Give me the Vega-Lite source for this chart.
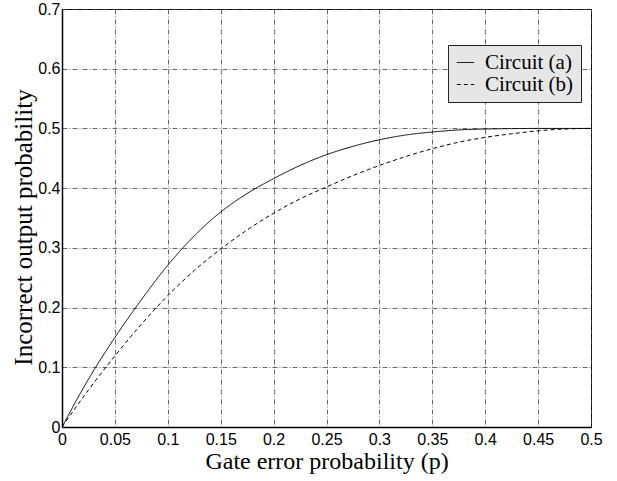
{
  "$schema": "https://vega.github.io/schema/vega-lite/v6.json",
  "width": 529,
  "height": 418,
  "autosize": {"type": "none"},
  "padding": {"left": 62, "top": 9, "right": 26, "bottom": 54},
  "background": "white",
  "config": {
    "view": {"stroke": "black", "strokeWidth": 1},
    "axis": {
      "grid": true,
      "gridColor": "#444",
      "gridDash": [5, 2, 1, 2],
      "gridWidth": 0.8,
      "gridOpacity": 1,
      "ticks": false,
      "domainColor": "black",
      "domainWidth": 1.5,
      "labelFont": "Liberation Sans",
      "labelFontSize": 16,
      "labelColor": "black",
      "titleFont": "Liberation Serif",
      "titleFontSize": 24,
      "titleFontWeight": "normal",
      "titleColor": "black"
    }
  },
  "data": {
    "values": [
      {"p": 0, "v": 0, "s": "Circuit (a)"},
      {"p": 0.025, "v": 0.080, "s": "Circuit (a)"},
      {"p": 0.05, "v": 0.150, "s": "Circuit (a)"},
      {"p": 0.075, "v": 0.213, "s": "Circuit (a)"},
      {"p": 0.1, "v": 0.271, "s": "Circuit (a)"},
      {"p": 0.125, "v": 0.320, "s": "Circuit (a)"},
      {"p": 0.15, "v": 0.360, "s": "Circuit (a)"},
      {"p": 0.175, "v": 0.391, "s": "Circuit (a)"},
      {"p": 0.2, "v": 0.416, "s": "Circuit (a)"},
      {"p": 0.225, "v": 0.438, "s": "Circuit (a)"},
      {"p": 0.25, "v": 0.456, "s": "Circuit (a)"},
      {"p": 0.275, "v": 0.470, "s": "Circuit (a)"},
      {"p": 0.3, "v": 0.481, "s": "Circuit (a)"},
      {"p": 0.325, "v": 0.489, "s": "Circuit (a)"},
      {"p": 0.35, "v": 0.494, "s": "Circuit (a)"},
      {"p": 0.375, "v": 0.4975, "s": "Circuit (a)"},
      {"p": 0.4, "v": 0.499, "s": "Circuit (a)"},
      {"p": 0.425, "v": 0.4997, "s": "Circuit (a)"},
      {"p": 0.45, "v": 0.5, "s": "Circuit (a)"},
      {"p": 0.475, "v": 0.5, "s": "Circuit (a)"},
      {"p": 0.5, "v": 0.5, "s": "Circuit (a)"},
      {"p": 0, "v": 0, "s": "Circuit (b)"},
      {"p": 0.025, "v": 0.062, "s": "Circuit (b)"},
      {"p": 0.05, "v": 0.119, "s": "Circuit (b)"},
      {"p": 0.075, "v": 0.172, "s": "Circuit (b)"},
      {"p": 0.1, "v": 0.220, "s": "Circuit (b)"},
      {"p": 0.125, "v": 0.262, "s": "Circuit (b)"},
      {"p": 0.15, "v": 0.298, "s": "Circuit (b)"},
      {"p": 0.175, "v": 0.330, "s": "Circuit (b)"},
      {"p": 0.2, "v": 0.358, "s": "Circuit (b)"},
      {"p": 0.225, "v": 0.382, "s": "Circuit (b)"},
      {"p": 0.25, "v": 0.402, "s": "Circuit (b)"},
      {"p": 0.275, "v": 0.421, "s": "Circuit (b)"},
      {"p": 0.3, "v": 0.438, "s": "Circuit (b)"},
      {"p": 0.325, "v": 0.453, "s": "Circuit (b)"},
      {"p": 0.35, "v": 0.466, "s": "Circuit (b)"},
      {"p": 0.375, "v": 0.477, "s": "Circuit (b)"},
      {"p": 0.4, "v": 0.485, "s": "Circuit (b)"},
      {"p": 0.425, "v": 0.491, "s": "Circuit (b)"},
      {"p": 0.45, "v": 0.496, "s": "Circuit (b)"},
      {"p": 0.475, "v": 0.499, "s": "Circuit (b)"},
      {"p": 0.5, "v": 0.5, "s": "Circuit (b)"}
    ]
  },
  "mark": {"type": "line", "color": "black", "strokeWidth": 1, "interpolate": "monotone", "clip": true},
  "encoding": {
    "x": {
      "field": "p",
      "type": "quantitative",
      "scale": {"domain": [0, 0.5], "nice": false},
      "axis": {
        "title": "Gate error probability (p)",
        "values": [0, 0.05, 0.1, 0.15, 0.2, 0.25, 0.3, 0.35, 0.4, 0.45, 0.5],
        "format": "~g",
        "labelPadding": 4,
        "labelFlush": false,
        "titleBaseline": "alphabetic",
        "titleY": 41
      }
    },
    "y": {
      "field": "v",
      "type": "quantitative",
      "scale": {"domain": [0, 0.7], "nice": false},
      "axis": {
        "title": "Incorrect output probability",
        "values": [0, 0.1, 0.2, 0.3, 0.4, 0.5, 0.6, 0.7],
        "format": "~g",
        "labelPadding": 2,
        "labelFlush": false,
        "titleAngle": -90,
        "titleBaseline": "middle",
        "titleFontSize": 25,
        "titleX": -39,
        "titleY": 218,
        "titleAnchor": null
      }
    },
    "strokeDash": {
      "field": "s",
      "type": "nominal",
      "scale": {"domain": ["Circuit (a)", "Circuit (b)"], "range": [[1, 0], [4, 3]]},
      "legend": {
        "title": null,
        "orient": "none",
        "legendX": 386,
        "legendY": 36,
        "fillColor": "#e6e6e6",
        "strokeColor": "#222",
        "padding": 7,
        "labelFont": "Liberation Serif",
        "labelFontSize": 21,
        "labelColor": "black",
        "labelOffset": 9,
        "symbolType": "stroke",
        "symbolStrokeColor": "black",
        "symbolStrokeWidth": 1,
        "symbolSize": 300,
        "rowPadding": 0
      }
    }
  }
}
